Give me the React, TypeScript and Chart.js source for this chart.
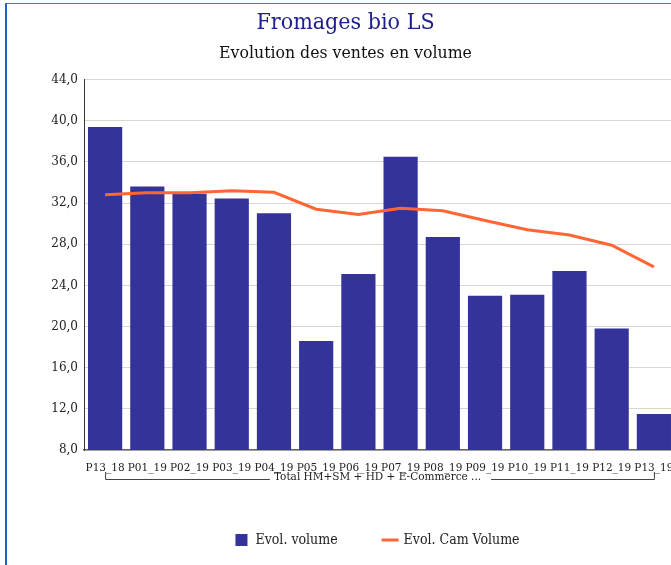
import React, { useEffect, useRef } from "react";
import { Chart, registerables } from "chart.js";

Chart.register(...registerables);

const categories = [
  "P13_18", "P01_19", "P02_19", "P03_19", "P04_19", "P05_19", "P06_19",
  "P07_19", "P08_19", "P09_19", "P10_19", "P11_19", "P12_19", "P13_19",
];
const volumeValues = [39.4, 33.6, 32.9, 32.45, 31.0, 18.6, 25.1, 36.5, 28.7, 23.0, 23.1, 25.4, 19.8, 11.5];
const camVolumeValues = [32.8, 33.0, 33.0, 33.2, 33.05, 31.4, 30.9, 31.5, 31.25, 30.3, 29.4, 28.9, 27.9, 25.8];
const seriesNames = ["Evol. volume", "Evol. Cam Volume"];
const yMin = 8;
const yMax = 44;
const yStep = 4;
const groupLabel = "Total HM+SM + HD + E-Commerce ...";
const titleText = "Fromages bio LS";
const subtitleText = "Evolution des ventes en volume";

const SERIF = "'DejaVu Serif Condensed', 'DejaVu Serif', serif";
const SERIF_N = "'DejaVu Serif', serif";
const BAR_COLOR = "#333399";
const LINE_COLOR = "#ff6633";

const groupPlugin = {
  id: "groupBracket",
  afterDraw(chart: any) {
    const xs = chart.scales.x;
    const ctx = chart.ctx;
    const x0 = xs.getPixelForValue(0);
    const x1 = xs.getPixelForValue(categories.length - 1);
    const y = xs.top + 29;
    ctx.save();
    ctx.font = `10.5px ${SERIF_N}`;
    ctx.fillStyle = "#222";
    ctx.textAlign = "center";
    ctx.textBaseline = "middle";
    const cx = (x0 + x1) / 2 - 2;
    const tw = ctx.measureText(groupLabel).width;
    ctx.fillText(groupLabel, cx, y - 2);
    ctx.strokeStyle = "#444";
    ctx.lineWidth = 1;
    ctx.beginPath();
    ctx.moveTo(x0 + 0.5, y - 7);
    ctx.lineTo(x0 + 0.5, y + 0.5);
    ctx.lineTo(cx - tw / 2 - 4, y + 0.5);
    ctx.moveTo(cx + tw / 2 + 10, y + 0.5);
    ctx.lineTo(x1 + 0.5, y + 0.5);
    ctx.lineTo(x1 + 0.5, y - 7);
    ctx.stroke();
    ctx.restore();
  },
};

const legendPlugin = {
  id: "customLegend",
  afterDraw(chart: any) {
    const ctx = chart.ctx;
    const ds = chart.data.datasets;
    const y = chart.height - 25;
    ctx.save();
    ctx.font = `14px ${SERIF}`;
    ctx.textBaseline = "middle";
    ctx.textAlign = "left";
    const w1 = ctx.measureText(ds[0].label).width;
    const w2 = ctx.measureText(ds[1].label).width;
    const total = 12 + 8 + w1 + 44 + 17 + 5 + w2;
    const ca = chart.chartArea;
    let x = (ca.left + ca.right) / 2 - total / 2 - 2;
    ctx.fillStyle = ds[0].backgroundColor;
    ctx.fillRect(x, y - 6, 12, 12);
    ctx.fillStyle = "#222";
    ctx.fillText(ds[0].label, x + 20, y);
    x += 20 + w1 + 44;
    ctx.strokeStyle = ds[1].borderColor;
    ctx.lineWidth = 3;
    ctx.beginPath();
    ctx.moveTo(x, y);
    ctx.lineTo(x + 17, y);
    ctx.stroke();
    ctx.fillStyle = "#222";
    ctx.fillText(ds[1].label, x + 22, y);
    ctx.restore();
  },
};

export default function App() {
  const ref = useRef<HTMLCanvasElement | null>(null);

  useEffect(() => {
    if (!ref.current) return;
    const chart = new Chart(ref.current, {
      type: "bar",
      data: {
        labels: categories,
        datasets: [
          {
            type: "bar",
            label: seriesNames[0],
            data: volumeValues,
            backgroundColor: BAR_COLOR,
            borderWidth: 0,
            categoryPercentage: 0.81,
            barPercentage: 1,
            order: 1,
          },
          {
            type: "line",
            label: seriesNames[1],
            data: camVolumeValues,
            borderColor: LINE_COLOR,
            backgroundColor: LINE_COLOR,
            borderWidth: 3,
            pointRadius: 0,
            tension: 0,
            fill: false,
            order: 0,
          } as any,
        ],
      },
      options: {
        responsive: false,
        animation: false,
        devicePixelRatio: 1,
        layout: { padding: { left: 16, right: 16, top: 0, bottom: 75 } },
        plugins: {
          legend: { display: false },
          tooltip: { enabled: false },
          title: {
            display: true,
            text: titleText,
            color: "#20208c",
            font: { family: SERIF, size: 23, weight: "normal" },
            padding: { top: 9, bottom: 0 },
          },
          subtitle: {
            display: true,
            text: subtitleText,
            color: "#111",
            font: { family: SERIF, size: 17.5, weight: "normal" },
            padding: { top: 6, bottom: 16 },
          },
        },
        scales: {
          x: {
            grid: { display: false },
            border: { display: true, color: "#666", width: 1.5 },
            ticks: {
              color: "#222",
              font: { family: SERIF_N, size: 10.5 },
              padding: 4,
              maxRotation: 0,
              autoSkip: false,
            },
            afterFit(scale: any) {
              scale.height = 40;
            },
          },
          y: {
            min: yMin,
            max: yMax,
            grid: { color: "#d6d6d6", lineWidth: 1, drawTicks: false },
            border: { display: true, color: "#333", width: 1 },
            ticks: {
              stepSize: yStep,
              color: "#222",
              padding: 6,
              font: { family: SERIF_N, size: 12 },
              callback: (v: any) => Number(v).toFixed(1).replace(".", ","),
            },
            afterFit(scale: any) {
              scale.width = 68;
            },
          },
        },
      },
      plugins: [groupPlugin, legendPlugin],
    });
    return () => chart.destroy();
  }, []);

  return (
    <div style={{ position: "fixed", left: 0, top: 0, width: 671, height: 565, overflow: "hidden", background: "#fff" }}>
      <div
        style={{
          position: "absolute",
          left: 5,
          top: 3,
          width: 800,
          height: 800,
          borderLeft: "2px solid #1e64b8",
          borderTop: "1px solid #3a7cc9",
          boxSizing: "border-box",
        }}
      />
      <canvas ref={ref} width={691} height={565} style={{ position: "absolute", left: 0, top: 0, width: 691, height: 565 }} />
    </div>
  );
}
